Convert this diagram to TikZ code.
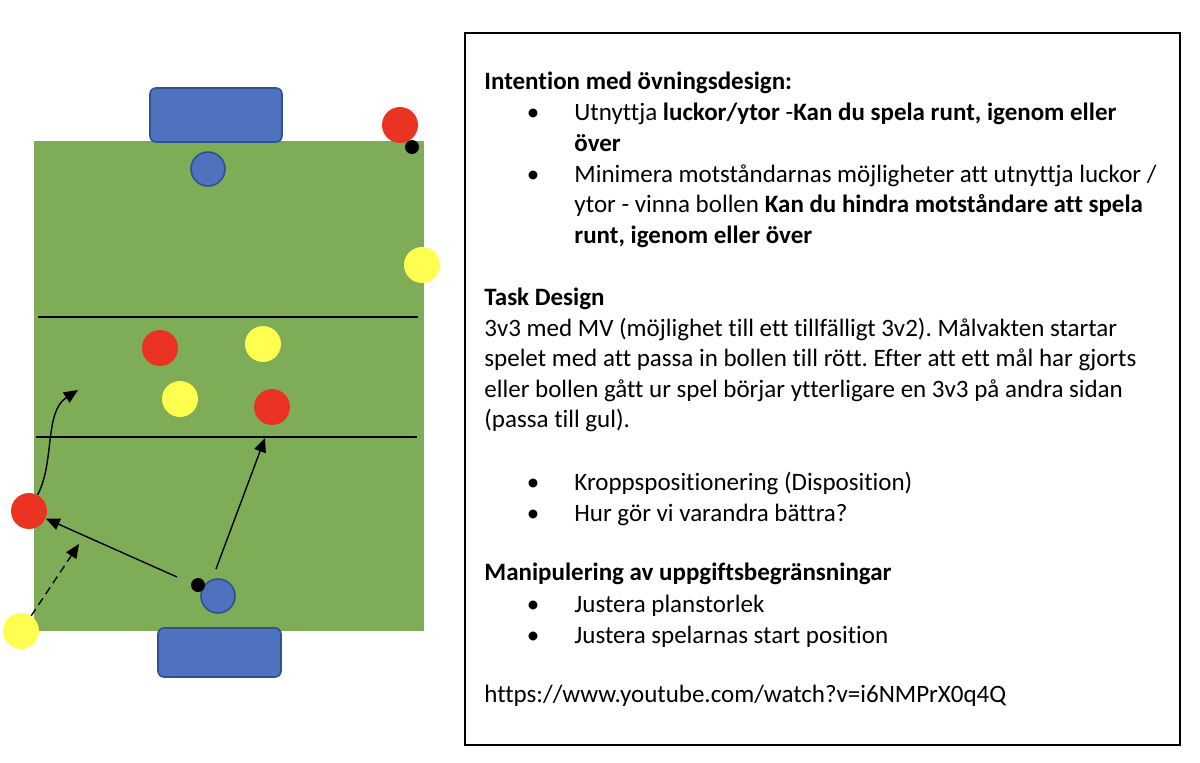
\documentclass[tikz,border=0pt]{standalone}
\usepackage{fontspec}
\setmainfont[Ligatures=NoCommon]{Carlito}
\frenchspacing
\usetikzlibrary{arrows.meta}
\definecolor{pitchgreen}{RGB}{127,172,86}
\definecolor{gkblue}{RGB}{79,114,190}
\definecolor{gkborder}{RGB}{47,82,143}
\definecolor{pred}{RGB}{234,51,35}
\definecolor{pyellow}{RGB}{255,255,80}
\tikzset{
  redp/.style={circle,fill=pred,inner sep=0,minimum size=18pt},
  yelp/.style={circle,fill=pyellow,inner sep=0,minimum size=18pt},
  keeper/.style={circle,fill=gkblue,draw=gkborder,line width=0.8pt,inner sep=0,minimum size=17pt},
  ball/.style={circle,fill=black,inner sep=0,minimum size=7pt},
  goal/.style={rectangle,rounded corners=3pt,fill=gkblue,draw=gkborder,line width=0.8pt,inner sep=0},
  arr/.style={line width=0.7pt,-{Triangle[length=7pt,width=6pt]}},
  txt/.style={anchor=base west,inner sep=0,font=\fontsize{12.5pt}{15pt}\selectfont},
  bul/.style={anchor=base,inner sep=0,font=\fontsize{12.5pt}{15pt}\selectfont},
  zone/.style={line width=0.7pt,black}
}
\begin{document}
\begin{tikzpicture}[x=0.5pt,y=-0.5pt]
\useasboundingbox (0,0) rectangle (1200,762);
% pitch
\fill[pitchgreen] (34,141) rectangle (424,631);
\draw[zone] (38,317) -- (418,317);
\draw[zone] (36,437) -- (417,437);
% goals
\node[goal,minimum width=66pt,minimum height=27pt] (goaltop) at (216,115) {};
\node[goal,minimum width=61.5pt,minimum height=24.5pt] (goalbot) at (219.5,652.5) {};
% keepers
\node[keeper] (gktop) at (208,169) {};
\node[keeper] (gkbot) at (218,596) {};
\node[ball] (ballbot) at (198,585) {};
% players
\node[redp] (rtr) at (400,125) {};
\node[ball] (balltop) at (412,147) {};
\node[yelp] (yr) at (422,265) {};
\node[redp] (r1) at (160,348) {};
\node[yelp] (y1) at (263,344) {};
\node[yelp] (y2) at (180,399) {};
\node[redp] (r2) at (272,407) {};
\node[redp] (rl) at (29,511) {};
\node[yelp] (yl) at (21,631) {};
% arrow coordinates
\coordinate (c1) at (78,390);
\coordinate (c2) at (265,438);
\coordinate (c3) at (216,569);
\coordinate (c4) at (177,577);
\coordinate (c5) at (79,544);
% connectors
\draw[arr] (rl) .. controls (55,462) and (44,412) .. (c1);
\draw[arr] (c3) -- (c2);
\draw[arr] (c4) -- (rl);
\draw[arr,dashed,dash pattern=on 4pt off 2.5pt] (yl) -- (c5);
% text box
\draw[line width=1pt] (465,33) rectangle (1180,745);
\node[txt] (h1) at (484,89) {\textbf{Intention med övningsdesign:}};
\node[bul] (b1) at (533,120) {•};
\node[txt] (l1) at (574,120) {Utnyttja \textbf{luckor/ytor} -\textbf{Kan du spela runt, igenom eller}};
\node[txt] (l2) at (574,151) {\textbf{över}};
\node[bul] (b2) at (533,182) {•};
\node[txt] (l3) at (574,182) {Minimera motståndarnas möjligheter att utnyttja luckor /};
\node[txt] (l4) at (574,212) {ytor - vinna bollen \textbf{Kan du hindra motståndare att spela}};
\node[txt] (l5) at (574,243) {\textbf{runt, igenom eller över}};
\node[txt] (h2) at (484,305) {\textbf{Task Design}};
\node[txt] (p1) at (484,336) {3v3 med MV (möjlighet till ett tillfälligt 3v2). Målvakten startar};
\node[txt] (p2) at (484,366) {spelet med att passa in bollen till rött. Efter att ett mål har gjorts};
\node[txt] (p3) at (484,397) {eller bollen gått ur spel börjar ytterligare en 3v3 på andra sidan};
\node[txt] (p4) at (484,427) {(passa till gul).};
\node[bul] (b3) at (533,490) {•};
\node[txt] (k1) at (574,490) {Kroppspositionering (Disposition)};
\node[bul] (b4) at (533,521) {•};
\node[txt] (k2) at (574,521) {Hur gör vi varandra bättra?};
\node[txt] (h3) at (484,580) {\textbf{Manipulering av uppgiftsbegränsningar}};
\node[bul] (b5) at (533,612) {•};
\node[txt] (j1) at (574,612) {Justera planstorlek};
\node[bul] (b6) at (533,643) {•};
\node[txt] (j2) at (574,643) {Justera spelarnas start position};
\node[txt] (url) at (484,702) {https://www.youtube.com/watch?v=i6NMPrX0q4Q};
\end{tikzpicture}
\end{document}
